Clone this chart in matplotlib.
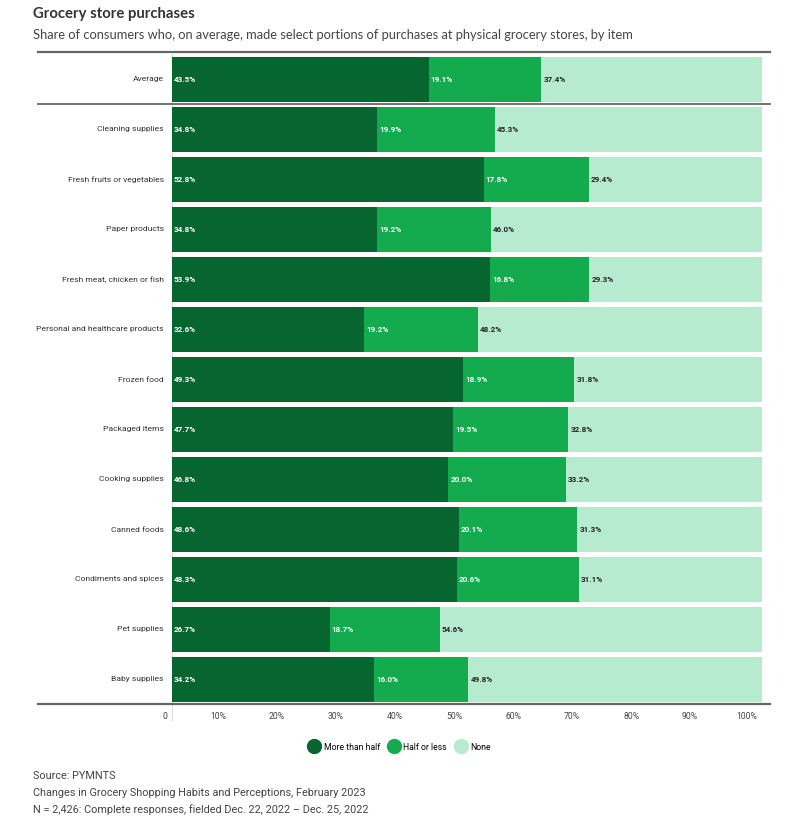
import numpy as np
import matplotlib.pyplot as plt
from matplotlib.lines import Line2D

categories = ["Average", "Cleaning supplies", "Fresh fruits or vegetables", "Paper products",
              "Fresh meat, chicken or fish", "Personal and healthcare products", "Frozen food",
              "Packaged items", "Cooking supplies", "Canned foods", "Condiments and spices",
              "Pet supplies", "Baby supplies"]
more_than_half = [43.5, 34.8, 52.8, 34.8, 53.9, 32.6, 49.3, 47.7, 46.8, 48.6, 48.3, 26.7, 34.2]
half_or_less = [19.1, 19.9, 17.8, 19.2, 16.8, 19.2, 18.9, 19.5, 20.0, 20.1, 20.6, 18.7, 16.0]
none = [37.4, 45.3, 29.4, 46.0, 29.3, 48.2, 31.8, 32.8, 33.2, 31.3, 31.1, 54.6, 49.8]
series_names = ["More than half", "Half or less", "None"]
colors = ["#07652f", "#14ab4f", "#b7ebd0"]
text_colors = ["white", "white", "#222222"]
xticks = [0, 10, 20, 30, 40, 50, 60, 70, 80, 90, 100]
xticklabels = ["0"] + [f"{v}%" for v in xticks[1:]]

plt.rcParams['font.family'] = ['Roboto', 'DejaVu Sans']

fig = plt.figure(figsize=(7.96, 8.26), dpi=100)
ax = fig.add_axes([172/796, 1 - 704/826, 590/796, 650/826])

y = np.arange(len(categories))
left = np.zeros(len(categories))
for vals, c, tc in zip([more_than_half, half_or_less, none], colors, text_colors):
    ax.barh(y, vals, left=left, height=0.9, color=c, edgecolor='none')
    for yi, l, v in zip(y, left, vals):
        ax.annotate(f"{v:.1f}%", (l, yi), xytext=(1.5, 0), textcoords='offset points',
                    ha='left', va='center', fontsize=5.8, fontweight='bold', color=tc)
    left = left + np.array(vals)

ax.set_ylim(len(categories) - 0.5, -0.5)
ax.set_xlim(0, 100)
ax.set_yticks(y)
ax.set_yticklabels(categories, fontsize=6.1, color='#333333')
ax.set_xticks([])
ax.tick_params(axis='both', length=0, pad=6)
for s in ['top', 'right', 'bottom', 'left']:
    ax.spines[s].set_visible(False)

# x tick labels sit right-aligned just left of each gridline value
for v, lab in zip(xticks, xticklabels):
    ax.annotate(lab, (v, 0), xycoords=('data', 'axes fraction'), xytext=(-3.5, -9),
                textcoords='offset points', ha='right', va='center', fontsize=6.2,
                color='#444444', annotation_clip=False)

# frame lines
x0, x1 = (38 - 172) / 590, (770 - 172) / 590
ax.add_line(Line2D([x0, x1], [1.003, 1.003], transform=ax.transAxes, color='#666666', lw=1.6, clip_on=False))
ax.add_line(Line2D([x0, x1], [0, 0], transform=ax.transAxes, color='#666666', lw=1.6, clip_on=False))
ax.plot([x0, x1], [0.5, 0.5], transform=ax.get_yaxis_transform(), color='#666666', lw=1.3, clip_on=False)
ax.add_line(Line2D([0, 0], [-0.025, 1.0], transform=ax.transAxes, color='#dddddd', lw=0.8, clip_on=False, zorder=0))

fig.text(33/796, 1 - 14/826, "Grocery store purchases", fontsize=10.7, fontweight='bold',
         color='#333333', family=['Lato', 'DejaVu Sans'], va='center')
fig.text(33/796, 1 - 35/826, "Share of consumers who, on average, made select portions of purchases at physical grocery stores, by item",
         fontsize=9.27, color='#444444', family=['Lato', 'DejaVu Sans'], va='center')

handles = [Line2D([], [], marker='o', ls='none', markersize=10, color=c) for c in colors]
fig.legend(handles, series_names, loc='center', bbox_to_anchor=(400/796, 1 - 747/826), ncol=3,
           frameon=False, fontsize=6.2, handletextpad=0.5, columnspacing=1.0, handlelength=1.2)

src = ["Source: PYMNTS", "Changes in Grocery Shopping Habits and Perceptions, February 2023",
       "N = 2,426: Complete responses, fielded Dec. 22, 2022 \u2013 Dec. 25, 2022"]
for i, s in enumerate(src):
    fig.text(33/796, 1 - (776 + i * 17) / 826, s, fontsize=7.8, color='#444444', va='center')

fig.savefig("out.png", dpi=100, facecolor='white')
